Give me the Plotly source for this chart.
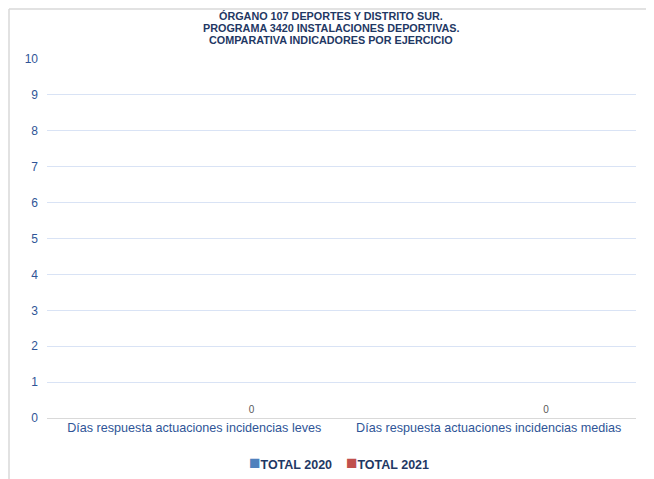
import plotly.graph_objects as go

categories = ["Días respuesta actuaciones incidencias leves",
              "Días respuesta actuaciones incidencias medias"]
series_names = ["TOTAL 2020", "TOTAL 2021"]
total_2020 = [0, 0]
total_2021 = [0, 0]
y_ticks = list(range(0, 11))
title_lines = ["ÓRGANO 107 DEPORTES Y DISTRITO SUR.",
               "PROGRAMA 3420 INSTALACIONES DEPORTIVAS.",
               "COMPARATIVA INDICADORES POR EJERCICIO"]

# The page body adds an 8px offset; the layout is expressed in reference pixels.
OFF = 8
W, H = 654, 479
PLOT_L, PLOT_R, PLOT_T, PLOT_B = 47, 636, 59, 418   # plot area in reference pixels
pw, ph = PLOT_R - PLOT_L, PLOT_B - PLOT_T
ml, mt = PLOT_L - OFF, PLOT_T - OFF
mr, mb = W - ml - pw, H - mt - ph

def px_x(px):
    return (px - PLOT_L) / pw

def px_y(py):
    return (PLOT_B - py) / ph

FONT = "Liberation Sans, Arial, sans-serif"
BLUE, RED = "#4F81BD", "#C0504D"

fig = go.Figure()
fig.add_trace(go.Bar(
    x=categories, y=total_2020, name=series_names[0], showlegend=False,
    marker=dict(color=BLUE, line=dict(width=0)),
))
fig.add_trace(go.Bar(
    x=categories, y=total_2021, name=series_names[1], showlegend=False,
    marker=dict(color=RED, line=dict(width=0)),
    text=[str(v) for v in total_2021], textposition="outside",
    textfont=dict(size=10, color="#595959", family=FONT),
    cliponaxis=False,
))

annotations = []
for i, line in enumerate(title_lines):
    annotations.append(dict(
        text=f"<b>{line}</b>", xref="paper", yref="paper",
        x=px_x(331), y=px_y(16 + 12 * i), xanchor="center", yanchor="middle",
        showarrow=False,
        font=dict(family=FONT, size=10.8, color="#1F3864"),
    ))

sq = "<span style='color:{c};font-size:19px'>■</span>"
legend_text = (sq.format(c=BLUE) + f"<b>{series_names[0]}</b>"
               "&nbsp;&nbsp;&nbsp;&nbsp;" + sq.format(c=RED) + f"<b>{series_names[1]}</b>")
annotations.append(dict(
    text=legend_text, xref="paper", yref="paper",
    x=px_x(339), y=px_y(462), xanchor="center", yanchor="middle", showarrow=False,
    font=dict(family=FONT, size=12.5, color="#1F3864"),
))

fig.update_layout(
    width=W, height=H,
    margin=dict(l=ml, r=mr, t=mt, b=mb, autoexpand=False),
    paper_bgcolor="white", plot_bgcolor="white",
    barmode="group", bargap=0.22, bargroupgap=0,
    showlegend=False,
    xaxis=dict(
        showgrid=False, showline=False, ticks="", automargin=False,
        tickfont=dict(family=FONT, size=12.6, color="#2F5597"),
    ),
    yaxis=dict(
        range=[0, 10], tickvals=y_ticks, showgrid=True, gridcolor="#D9E3F5", gridwidth=1,
        zeroline=True, zerolinecolor="#D9D9D9", zerolinewidth=1, showline=False, ticks="",
        ticklabelstandoff=8, automargin=False,
        tickfont=dict(family=FONT, size=12, color="#2F5597"),
    ),
    annotations=annotations,
    shapes=[
        dict(type="line", xref="paper", yref="paper", x0=px_x(OFF + 1), x1=px_x(OFF + 1),
             y0=px_y(OFF + 1), y1=px_y(490), line=dict(color="#D9D9D9", width=1.5)),
        dict(type="line", xref="paper", yref="paper", x0=px_x(OFF + 1), x1=px_x(670),
             y0=px_y(OFF + 1), y1=px_y(OFF + 1), line=dict(color="#D9D9D9", width=1.5)),
    ],
)

fig.write_html("out.html")
